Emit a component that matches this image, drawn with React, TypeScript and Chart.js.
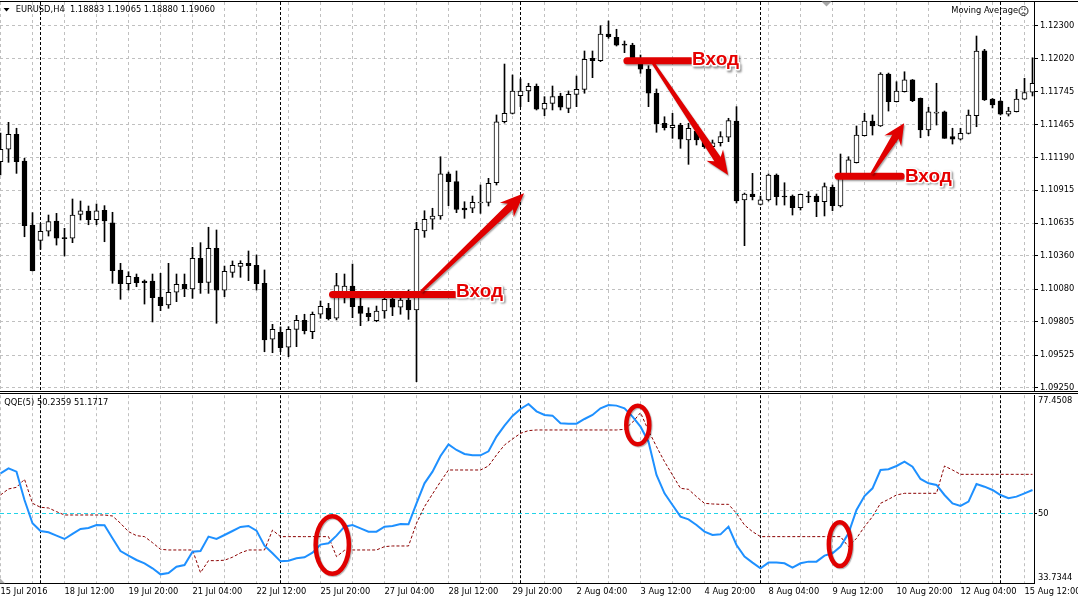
import React, { useEffect, useRef } from 'react';
import { Chart, registerables } from 'chart.js';

Chart.register(...registerables);

// ---------------- data ----------------
const opens = [
  1.11154, 1.11259, 1.11385, 1.1116, 1.10621, 1.10492, 1.10568, 1.10655, 1.10511, 1.10509,
  1.10711, 1.10739, 1.10666, 1.10745, 1.1064, 1.10242, 1.10126, 1.1018, 1.10149, 1.10149,
  1.10014, 1.09947, 1.10054, 1.10121, 1.10082, 1.1034, 1.10138, 1.10425, 1.10071, 1.10222,
  1.10273, 1.10298, 1.10281, 1.1013, 1.09658, 1.09717, 1.09591, 1.09742, 1.09818, 1.09722,
  1.09869, 1.09919, 1.09835, 1.10023, 1.10107, 1.09938, 1.09877, 1.09815, 1.09896, 1.09997,
  1.09928, 1.09989, 1.09905, 1.1057, 1.10669, 1.10697, 1.11051, 1.10986, 1.10764, 1.10762,
  1.10806, 1.10812, 1.10977, 1.11491, 1.11562, 1.1171, 1.1175, 1.11789, 1.11596, 1.11646,
  1.11708, 1.11604, 1.11722, 1.11764, 1.12025, 1.12005, 1.1223, 1.12202, 1.12146, 1.12137,
  1.12025, 1.11935, 1.11731, 1.11478, 1.11441, 1.11461, 1.11337, 1.11413, 1.11323, 1.11281,
  1.11314, 1.1136, 1.11497, 1.10832, 1.10882, 1.10795, 1.10832, 1.11042, 1.10865, 1.10865,
  1.10767, 1.10861, 1.10865, 1.10817, 1.10939, 1.10781, 1.11042, 1.11146, 1.11373, 1.11497,
  1.11455, 1.11893, 1.1166, 1.11744, 1.11843, 1.11688, 1.11421, 1.11564, 1.11575, 1.11365,
  1.11343, 1.11393, 1.11542, 1.12089, 1.11682, 1.11666, 1.11554, 1.11575, 1.1168, 1.11739,
];
const highs = [
  1.11396, 1.11486, 1.11436, 1.11183, 1.10725, 1.10635, 1.10705, 1.10719, 1.10593, 1.1084,
  1.10823, 1.10781, 1.10798, 1.10784, 1.10728, 1.10298, 1.10227, 1.10208, 1.10158, 1.10208,
  1.10214, 1.10298, 1.10208, 1.10208, 1.10433, 1.10472, 1.10602, 1.10579, 1.10275, 1.10318,
  1.1032, 1.10402, 1.10368, 1.10242, 1.09784, 1.09762, 1.09764, 1.0986, 1.09869, 1.09888,
  1.09981, 1.09961, 1.10214, 1.10208, 1.10292, 1.10017, 1.09924, 1.09938, 1.10012, 1.10017,
  1.10017, 1.10073, 1.10644, 1.10741, 1.10762, 1.11196, 1.11067, 1.11076, 1.10817, 1.10865,
  1.10958, 1.11014, 1.11548, 1.11977, 1.11885, 1.11851, 1.11815, 1.11809, 1.11702, 1.11792,
  1.11731, 1.1175, 1.11876, 1.12087, 1.12087, 1.123, 1.1234, 1.1227, 1.12171, 1.12152,
  1.12053, 1.11963, 1.11767, 1.11533, 1.11562, 1.11478, 1.11478, 1.11447, 1.11351, 1.11337,
  1.11407, 1.1152, 1.11618, 1.1089, 1.11056, 1.10865, 1.11051, 1.11051, 1.10977, 1.10874,
  1.10882, 1.10901, 1.10882, 1.10975, 1.10958, 1.11219, 1.11196, 1.11455, 1.11562, 1.11548,
  1.11904, 1.11901, 1.11828, 1.11912, 1.11847, 1.11691, 1.11613, 1.11815, 1.11581, 1.11436,
  1.11436, 1.1159, 1.12213, 1.12101, 1.11687, 1.1167, 1.11613, 1.11764, 1.11857, 1.1203,
];
const lows = [
  1.11042, 1.11149, 1.11056, 1.10522, 1.10233, 1.10416, 1.10528, 1.10452, 1.1036, 1.10472,
  1.10663, 1.10623, 1.10623, 1.1048, 1.1013, 1.09995, 1.10073, 1.10101, 1.09955, 1.09804,
  1.09899, 1.09919, 1.09975, 1.10017, 1.10003, 1.10045, 1.10045, 1.09793, 1.10017, 1.1018,
  1.1018, 1.10152, 1.10073, 1.09553, 1.09545, 1.09553, 1.09511, 1.09596, 1.09703, 1.09663,
  1.09835, 1.09821, 1.09821, 1.09964, 1.0984, 1.09773, 1.09815, 1.09806, 1.09835, 1.09857,
  1.09869, 1.09826, 1.09301, 1.10517, 1.10585, 1.10669, 1.10784, 1.10725, 1.10677, 1.10725,
  1.10719, 1.10781, 1.10958, 1.1148, 1.11556, 1.11618, 1.1166, 1.1159, 1.11542, 1.1159,
  1.1159, 1.11567, 1.11618, 1.11731, 1.11862, 1.11998, 1.12194, 1.12129, 1.12073, 1.12011,
  1.11899, 1.11618, 1.11402, 1.11421, 1.11351, 1.11267, 1.11132, 1.11295, 1.11267, 1.1127,
  1.11286, 1.11323, 1.10806, 1.10447, 1.10832, 1.10789, 1.10823, 1.10789, 1.10789, 1.10705,
  1.10747, 1.10809, 1.10691, 1.10697, 1.10741, 1.10773, 1.11034, 1.11143, 1.11371, 1.11379,
  1.11451, 1.11581, 1.11657, 1.11741, 1.1166, 1.11356, 1.11373, 1.11463, 1.11351, 1.11303,
  1.11337, 1.11388, 1.11449, 1.1167, 1.11607, 1.11548, 1.11539, 1.11573, 1.11678, 1.11708,
];
const closes = [
  1.11259, 1.11385, 1.11154, 1.10615, 1.10236, 1.10568, 1.10649, 1.10509, 1.10506, 1.10705,
  1.10741, 1.10666, 1.10741, 1.10655, 1.10236, 1.10126, 1.10189, 1.10135, 1.10135, 1.10008,
  1.09941, 1.10054, 1.10121, 1.10084, 1.1034, 1.10135, 1.10425, 1.10071, 1.10231, 1.10281,
  1.10298, 1.10278, 1.10126, 1.09652, 1.09742, 1.09587, 1.09742, 1.09818, 1.0973, 1.09869,
  1.09936, 1.09832, 1.1011, 1.10107, 1.09933, 1.09877, 1.09848, 1.09896, 1.09995, 1.09928,
  1.09989, 1.09905, 1.10585, 1.10669, 1.10697, 1.11051, 1.10986, 1.10753, 1.10747, 1.10812,
  1.10815, 1.10972, 1.11491, 1.11562, 1.1175, 1.1175, 1.11789, 1.11596, 1.11646, 1.11702,
  1.11613, 1.11722, 1.11764, 1.12017, 1.12005, 1.1223, 1.12207, 1.12137, 1.12137, 1.12017,
  1.11933, 1.11731, 1.11472, 1.11441, 1.11461, 1.11343, 1.11436, 1.11337, 1.11281, 1.11314,
  1.11365, 1.115, 1.10823, 1.10882, 1.10859, 1.10832, 1.11042, 1.10859, 1.10857, 1.10767,
  1.1088, 1.10857, 1.10817, 1.10944, 1.10784, 1.11051, 1.11169, 1.11379, 1.11497, 1.11455,
  1.11893, 1.1166, 1.1175, 1.11843, 1.11668, 1.11421, 1.11575, 1.11573, 1.11351, 1.11343,
  1.11393, 1.11548, 1.12087, 1.11674, 1.11632, 1.11554, 1.11581, 1.11682, 1.11736, 1.11815,
];

const priceTicks = [1.123, 1.1202, 1.11745, 1.11465, 1.1119, 1.10915, 1.10635, 1.1036, 1.1008, 1.09805, 1.09525, 1.0925];

const timeLabels = [
  '15 Jul 2016', '18 Jul 12:00', '19 Jul 20:00', '21 Jul 04:00', '22 Jul 12:00', '25 Jul 20:00',
  '27 Jul 04:00', '28 Jul 12:00', '29 Jul 20:00', '2 Aug 04:00', '3 Aug 12:00', '4 Aug 20:00',
  '8 Aug 04:00', '9 Aug 12:00', '10 Aug 20:00', '12 Aug 04:00', '15 Aug 12:00',
];

const qqeMain = [
  59.29, 60.46, 59.68, 53.1, 47.68, 45.89, 45.58, 44.81, 44.03, 45.2,
  46.36, 46.59, 47.28, 47.21, 44.19, 41.24, 40.16, 39.15, 38.38, 37.22,
  35.82, 36.13, 37.6, 37.99, 41.09, 41.24, 44.58, 44.03, 44.96, 45.89,
  46.83, 47.06, 45.98, 42.49, 40.71, 38.84, 39.0, 39.54, 39.77, 40.86,
  42.72, 43.03, 44.81, 46.9, 47.28, 46.51, 45.74, 45.74, 46.9, 47.06,
  47.52, 47.45, 52.32, 56.97, 59.68, 63.33, 66.03, 64.72, 63.79, 63.48,
  63.48, 64.41, 67.82, 70.37, 72.62, 74.24, 75.41, 73.71, 72.86, 72.7,
  70.92, 70.84, 70.84, 71.92, 72.86, 74.41, 75.18, 75.03, 74.41, 72.47,
  70.14, 66.65, 58.91, 54.65, 51.94, 49.23, 48.6, 47.28, 45.74, 44.96,
  45.11, 46.9, 42.64, 39.93, 38.54, 37.22, 38.54, 38.54, 38.38, 37.37,
  38.38, 38.77, 38.77, 40.16, 40.71, 42.26, 45.35, 50.77, 54.02, 55.81,
  60.07, 60.23, 61.0, 62.01, 60.85, 57.98, 56.97, 56.59, 54.26, 52.32,
  51.7, 52.72, 56.82, 56.19, 55.42, 54.26, 53.49, 53.87, 54.65, 55.42,
];
const qqeSignal = [
  54.26, 55.66, 56.04, 57.91, 52.32, 51.4, 51.24, 50.39, 49.61, 49.61,
  49.61, 49.61, 49.61, 49.61, 49.38, 47.68, 45.74, 44.81, 44.58, 43.18,
  41.64, 41.48, 41.48, 41.48, 41.48, 36.21, 39.0, 39.0, 39.1, 39.8,
  40.8, 41.48, 41.48, 41.48, 46.1, 44.58, 44.58, 44.58, 44.58, 44.58,
  44.58, 44.58, 39.93, 41.4, 41.48, 41.48, 41.48, 41.48, 42.26, 42.41,
  42.41, 42.41, 47.68, 51.55, 54.49, 57.36, 60.07, 60.07, 60.07, 60.07,
  60.07, 61.0, 63.56, 65.88, 67.27, 68.59, 69.22, 69.37, 69.37, 69.37,
  69.37, 69.37, 69.37, 69.37, 69.37, 69.37, 69.37, 69.37, 69.52, 71.14,
  73.39, 69.22, 65.5, 62.01, 58.91, 55.81, 55.57, 53.87, 52.32, 52.17,
  52.09, 52.09, 50.0, 47.28, 45.74, 44.58, 44.58, 44.58, 44.58, 44.58,
  44.58, 44.58, 44.58, 44.58, 44.58, 44.58, 42.26, 44.19, 46.9, 49.23,
  52.32, 53.25, 54.26, 54.65, 54.65, 54.65, 54.65, 54.65, 61.0, 60.07,
  59.06, 59.06, 59.06, 59.06, 59.06, 59.06, 59.06, 59.06, 59.06, 59.06,
];

const qqeLevel = 50;
const qqeAxisLabels = ['77.4508', '50', '33.7344'];
const weekStarts = [5, 35, 65, 95, 125];

// trade annotations (bar index / price units)
const entryLevels = [
  { from: 41.5, to: 56.7, price: 1.10035 },
  { from: 78.3, to: 86.3, price: 1.12004 },
  { from: 104.7, to: 112.6, price: 1.11031 },
];
const entryTexts = [
  { at: 56.95, price: 1.10061 },
  { at: 86.45, price: 1.1201 },
  { at: 113.05, price: 1.11028 },
];
const entryArrows = [
  { x0: 52.6, p0: 1.10059, x1: 65.45, p1: 1.10888 },
  { x0: 81.6, p0: 1.11983, x1: 90.95, p1: 1.11042 },
  { x0: 108.9, p0: 1.11051, x1: 112.95, p1: 1.11478 },
];
const qqeCircles = [
  { at: 41.47, v: 42.63, rx: 2.36, rv: 7.2 },
  { at: 79.66, v: 70.52, rx: 1.72, rv: 5.0 },
  { at: 104.91, v: 42.82, rx: 1.65, rv: 5.6 },
];

// ---------------- layout constants ----------------
const W = 1078;
const TOP_H = 392;
const BOT_H = 208;
const AXIS_W = 44;
const X_MIN = -0.0625;
const X_MAX = X_MIN + (W - AXIS_W) / 8;
const PRICE_MIN = 1.092308;
const PRICE_MAX = 1.124997;
const QQE_MIN = 33.7344;
const QQE_MAX = 77.4508;
const FONT = '"DejaVu Sans", Tahoma, sans-serif';
const FS = 8.3;
const GRID = '#c0c0c0';
const RED = '#e00000';
const gridTicks = Array.from({ length: 33 }, (_, i) => i * 4);

const noPad = (s: any) => {
  s.paddingTop = 0;
  s.paddingBottom = 0;
  s.paddingLeft = 0;
  s.paddingRight = 0;
};

function drawSeparators(ctx: any, x: any, a: any) {
  ctx.save();
  ctx.strokeStyle = '#000';
  ctx.lineWidth = 1;
  ctx.setLineDash([3, 2]);
  for (const w of weekStarts) {
    const px = Math.round(x.getPixelForValue(w) - 0.5) + 0.5;
    ctx.beginPath();
    ctx.moveTo(px, a.top);
    ctx.lineTo(px, a.bottom);
    ctx.stroke();
  }
  ctx.restore();
}

function drawArrow(ctx: any, x0: number, y0: number, x1: number, y1: number) {
  const dx = x1 - x0;
  const dy = y1 - y0;
  const L = Math.hypot(dx, dy);
  const ux = dx / L;
  const uy = dy / L;
  const nx = -uy;
  const ny = ux;
  const hl = Math.min(24, L * 0.35);
  const hw = 10;
  const w0 = 1.5;
  const w1 = 3.8;
  const bx = x1 - ux * hl;
  const by = y1 - uy * hl;
  const nbx = x1 - ux * (hl - 5);
  const nby = y1 - uy * (hl - 5);
  ctx.beginPath();
  ctx.moveTo(x0 + nx * w0, y0 + ny * w0);
  ctx.lineTo(nbx + nx * w1, nby + ny * w1);
  ctx.lineTo(bx + nx * hw, by + ny * hw);
  ctx.lineTo(x1, y1);
  ctx.lineTo(bx - nx * hw, by - ny * hw);
  ctx.lineTo(nbx - nx * w1, nby - ny * w1);
  ctx.lineTo(x0 - nx * w0, y0 - ny * w0);
  ctx.closePath();
  ctx.fill();
}

const upperDeco = {
  id: 'upperDeco',
  beforeDatasetsDraw(chart: any) {
    drawSeparators(chart.ctx, chart.scales.x, chart.chartArea);
  },
  afterDraw(chart: any) {
    const ctx = chart.ctx;
    const x = chart.scales.x;
    const y = chart.scales.y;
    ctx.save();
    // frame lines
    ctx.fillStyle = '#000';
    ctx.fillRect(0, 1, W, 1);
    ctx.fillRect(0, TOP_H - 1, W, 1);

    // header
    ctx.beginPath();
    ctx.moveTo(3.5, 8);
    ctx.lineTo(9.5, 8);
    ctx.lineTo(6.5, 11.5);
    ctx.closePath();
    ctx.fill();
    ctx.font = `${FS}px ${FONT}`;
    ctx.textBaseline = 'middle';
    ctx.textAlign = 'left';
    ctx.fillStyle = '#000';
    ctx.fillText('EURUSD,H4  1.18883 1.19065 1.18880 1.19060', 15.7, 10);
    ctx.textAlign = 'right';
    ctx.fillText('Moving Average', 1018, 11);
    // sad face
    ctx.strokeStyle = '#222';
    ctx.lineWidth = 1;
    ctx.beginPath();
    ctx.arc(1023.5, 11, 4.5, 0, Math.PI * 2);
    ctx.stroke();
    ctx.fillStyle = '#222';
    ctx.fillRect(1021.5, 8.5, 1, 1.5);
    ctx.fillRect(1024.5, 8.5, 1, 1.5);
    ctx.beginPath();
    ctx.arc(1023.5, 15.5, 2.6, 1.2 * Math.PI, 1.8 * Math.PI);
    ctx.stroke();
    // shift marker
    ctx.fillStyle = '#a8a8a8';
    ctx.beginPath();
    ctx.moveTo(821.5, 1.5);
    ctx.lineTo(831.5, 1.5);
    ctx.lineTo(826.5, 6.5);
    ctx.closePath();
    ctx.fill();

    // entry annotations
    ctx.save();
    ctx.shadowColor = 'rgba(0,0,0,0.35)';
    ctx.shadowOffsetX = 1;
    ctx.shadowOffsetY = 1.5;
    ctx.shadowBlur = 1.5;
    ctx.strokeStyle = RED;
    ctx.fillStyle = RED;
    ctx.lineWidth = 7;
    ctx.lineCap = 'round';
    for (const e of entryLevels) {
      const py = y.getPixelForValue(e.price);
      ctx.beginPath();
      ctx.moveTo(x.getPixelForValue(e.from), py);
      ctx.lineTo(x.getPixelForValue(e.to), py);
      ctx.stroke();
    }
    for (const a of entryArrows) {
      drawArrow(ctx, x.getPixelForValue(a.x0), y.getPixelForValue(a.p0), x.getPixelForValue(a.x1), y.getPixelForValue(a.p1));
    }
    ctx.restore();

    ctx.font = `bold 19px "Liberation Sans", Arial, sans-serif`;
    ctx.textAlign = 'left';
    ctx.textBaseline = 'middle';
    for (const t of entryTexts) {
      const px = x.getPixelForValue(t.at);
      const py = y.getPixelForValue(t.price);
      ctx.save();
      ctx.shadowColor = 'rgba(0,0,0,0.4)';
      ctx.shadowOffsetX = 1.5;
      ctx.shadowOffsetY = 1.5;
      ctx.shadowBlur = 2;
      ctx.strokeStyle = '#fff';
      ctx.lineWidth = 3;
      ctx.lineJoin = 'round';
      ctx.strokeText('Вход', px, py);
      ctx.restore();
      ctx.fillStyle = '#e60000';
      ctx.fillText('Вход', px, py);
    }
    ctx.restore();
  },
};

const lowerDeco = {
  id: 'lowerDeco',
  beforeDatasetsDraw(chart: any) {
    const ctx = chart.ctx;
    const a = chart.chartArea;
    const y = chart.scales.y;
    drawSeparators(ctx, chart.scales.x, a);
    const ly = Math.round(y.getPixelForValue(qqeLevel) - 0.5) + 0.5;
    ctx.save();
    ctx.strokeStyle = '#22d3e8';
    ctx.lineWidth = 1;
    ctx.setLineDash([4, 3]);
    ctx.beginPath();
    ctx.moveTo(a.left, ly);
    ctx.lineTo(a.right, ly);
    ctx.stroke();
    ctx.restore();
  },
  afterDraw(chart: any) {
    const ctx = chart.ctx;
    const x = chart.scales.x;
    const y = chart.scales.y;
    const a = chart.chartArea;
    ctx.save();
    ctx.fillStyle = '#000';
    ctx.fillRect(0, 1, W, 1);
    ctx.font = `${FS}px ${FONT}`;
    ctx.textBaseline = 'middle';
    ctx.textAlign = 'left';
    ctx.fillText('QQE(5) 50.2359 51.1717', 4.3, 10.7);
    // axis labels
    const lx = a.right + 4;
    ctx.fillText(qqeAxisLabels[0], lx, y.getPixelForValue(QQE_MAX) + 5.5);
    const my = Math.round(y.getPixelForValue(qqeLevel) - 0.5);
    ctx.fillRect(a.right, my, 3, 1);
    ctx.fillText(qqeAxisLabels[1], lx, my + 0.5);
    ctx.fillText(qqeAxisLabels[2], lx, y.getPixelForValue(QQE_MIN) - 5.6);
    // corner marker
    ctx.fillStyle = '#b0b0b0';
    ctx.beginPath();
    ctx.moveTo(0, a.bottom - 5);
    ctx.lineTo(5, a.bottom);
    ctx.lineTo(0, a.bottom);
    ctx.closePath();
    ctx.fill();
    // circles
    ctx.strokeStyle = RED;
    ctx.lineWidth = 4.5;
    ctx.shadowColor = 'rgba(0,0,0,0.3)';
    ctx.shadowOffsetX = 1;
    ctx.shadowOffsetY = 1;
    ctx.shadowBlur = 1;
    for (const c of qqeCircles) {
      const cx = x.getPixelForValue(c.at);
      const cy = y.getPixelForValue(c.v);
      const rx = Math.abs(x.getPixelForValue(c.at + c.rx) - cx) - 2.25;
      const ry = Math.abs(y.getPixelForValue(c.v + c.rv) - cy) - 2.25;
      ctx.beginPath();
      ctx.ellipse(cx, cy, rx, ry, 0, 0, Math.PI * 2);
      ctx.stroke();
    }
    ctx.restore();
  },
};

function upperConfig(): any {
  const bull = closes.map((c, i) => c >= opens[i]);
  return {
    type: 'bar',
    data: {
      datasets: [
        {
          label: 'bodies',
          data: opens.map((o, i) => ({ x: i, y: [Math.min(o, closes[i]), Math.max(o, closes[i])] })),
          backgroundColor: bull.map((b) => (b ? '#ffffff' : '#000000')),
          borderColor: '#000000',
          borderWidth: 1,
          borderSkipped: false,
          barThickness: 5,
          minBarLength: 1,
          grouped: false,
          order: 1,
          clip: 0,
        },
        {
          label: 'wicks',
          data: lows.map((l, i) => ({ x: i, y: [l, highs[i]] })),
          backgroundColor: '#000000',
          borderWidth: 0,
          barThickness: 1,
          minBarLength: 1,
          grouped: false,
          order: 2,
          clip: 0,
        },
      ],
    },
    options: {
      animation: false,
      responsive: false,
      devicePixelRatio: 1,
      events: [],
      layout: { padding: { top: 2, bottom: 2, left: 0, right: 0 } },
      plugins: { legend: { display: false }, tooltip: { enabled: false } },
      scales: {
        x: {
          type: 'linear',
          min: X_MIN,
          max: X_MAX,
          bounds: 'data',
          offset: false,
          afterBuildTicks: (s: any) => {
            s.ticks = gridTicks.map((v) => ({ value: v }));
          },
          afterFit: (s: any) => {
            s.height = 0;
            noPad(s);
          },
          ticks: { display: false },
          grid: { color: GRID, offset: false, drawTicks: false, lineWidth: 1 },
          border: { display: false, dash: [3, 3] },
        },
        y: {
          position: 'right',
          min: PRICE_MIN,
          max: PRICE_MAX,
          bounds: 'data',
          afterBuildTicks: (s: any) => {
            s.ticks = priceTicks.map((v) => ({ value: v }));
          },
          afterFit: (s: any) => {
            s.width = AXIS_W;
            noPad(s);
          },
          ticks: {
            autoSkip: false,
            padding: 2,
            color: '#000',
            font: { family: FONT, size: FS },
            callback: (v: any) => Number(v).toFixed(5),
          },
          grid: { color: GRID, drawTicks: true, tickLength: 4, tickColor: '#000', lineWidth: 1 },
          border: { display: true, color: '#000', width: 1, dash: [3, 3] },
        },
      },
    },
    plugins: [upperDeco],
  };
}

function lowerConfig(): any {
  return {
    type: 'line',
    data: {
      datasets: [
        {
          label: 'QQE',
          data: qqeMain.map((v, i) => ({ x: i, y: v })),
          borderColor: '#1e90ff',
          borderWidth: 2,
          pointRadius: 0,
          tension: 0,
          order: 1,
        },
        {
          label: 'Signal',
          data: qqeSignal.map((v, i) => ({ x: i, y: v })),
          borderColor: '#8b0000',
          borderWidth: 1,
          borderDash: [3, 2],
          pointRadius: 0,
          tension: 0,
          order: 2,
        },
      ],
    },
    options: {
      animation: false,
      responsive: false,
      devicePixelRatio: 1,
      events: [],
      layout: { padding: { top: 3.2, bottom: 0, left: 0, right: 0 } },
      plugins: { legend: { display: false }, tooltip: { enabled: false } },
      scales: {
        x: {
          type: 'linear',
          min: X_MIN,
          max: X_MAX,
          bounds: 'data',
          offset: false,
          afterBuildTicks: (s: any) => {
            s.ticks = gridTicks.map((v) => ({ value: v }));
          },
          afterFit: (s: any) => {
            s.height = 16.7;
            noPad(s);
          },
          ticks: {
            autoSkip: false,
            maxRotation: 0,
            minRotation: 0,
            align: 'start',
            padding: 4,
            color: '#000',
            font: { family: FONT, size: FS },
            callback: (v: any) => (v % 8 === 0 ? timeLabels[v / 8] ?? '' : ''),
          },
          grid: { color: GRID, offset: false, drawTicks: false, lineWidth: 1 },
          border: { display: true, color: '#000', width: 1, dash: [3, 3] },
        },
        y: {
          position: 'right',
          min: QQE_MIN,
          max: QQE_MAX,
          bounds: 'data',
          afterFit: (s: any) => {
            s.width = AXIS_W;
            noPad(s);
          },
          ticks: { display: false },
          grid: { display: false },
          border: { display: true, color: '#000', width: 1 },
        },
      },
    },
    plugins: [lowerDeco],
  };
}

export default function App() {
  const topRef = useRef<HTMLCanvasElement>(null);
  const botRef = useRef<HTMLCanvasElement>(null);
  useEffect(() => {
    const c1 = new Chart(topRef.current as HTMLCanvasElement, upperConfig());
    const c2 = new Chart(botRef.current as HTMLCanvasElement, lowerConfig());
    return () => {
      c1.destroy();
      c2.destroy();
    };
  }, []);
  return (
    <div style={{ position: 'fixed', left: 0, top: 0, width: W, height: 600, background: '#fff', overflow: 'hidden' }}>
      <canvas ref={topRef} width={W} height={TOP_H} style={{ position: 'absolute', left: 0, top: 0, width: W, height: TOP_H }} />
      <canvas ref={botRef} width={W} height={BOT_H} style={{ position: 'absolute', left: 0, top: TOP_H, width: W, height: BOT_H }} />
    </div>
  );
}
